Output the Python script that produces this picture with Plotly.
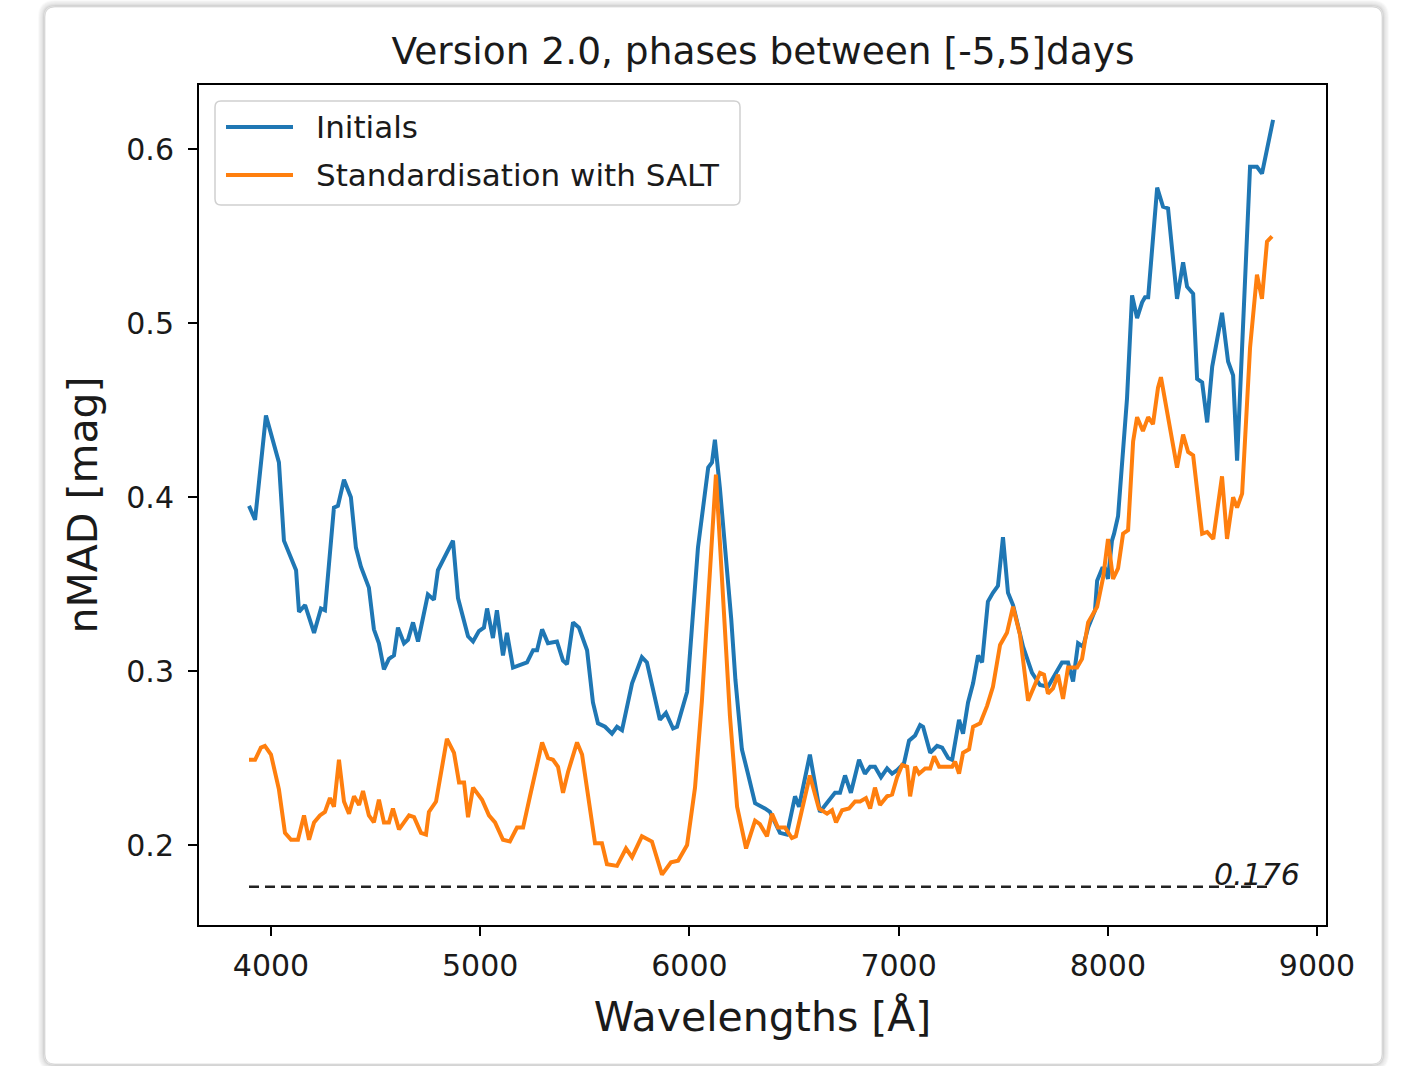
import plotly.graph_objects as go

# ---------------- data ----------------
wl_initials = [3895, 3924, 3976, 4038, 4062, 4120, 4134, 4163, 4206, 4239, 4258, 4301, 4320, 4349, 4382,
               4406, 4430, 4468, 4492, 4516, 4540, 4564, 4588, 4607, 4636, 4655, 4679, 4703, 4750, 4779,
               4798, 4870, 4894, 4942, 4966, 4994, 5018, 5033, 5061, 5080, 5109, 5128, 5157, 5224, 5253,
               5272, 5296, 5324, 5367, 5396, 5415, 5444, 5472, 5511, 5539, 5563, 5597, 5630, 5654, 5678,
               5726, 5773, 5797, 5859, 5888, 5922, 5941, 5965, 5989, 6041, 6090, 6108, 6122, 6146, 6200,
               6220, 6251, 6280, 6314, 6361, 6385, 6433, 6466, 6505, 6524, 6576, 6624, 6663, 6696, 6720,
               6744, 6772, 6811, 6839, 6864, 6887, 6916, 6945, 6969, 6993, 7026, 7050, 7079, 7103, 7117,
               7151, 7184, 7208, 7237, 7256, 7289, 7308, 7332, 7356, 7380, 7399, 7427, 7451, 7475, 7499,
               7523, 7547, 7595, 7638, 7676, 7714, 7738, 7781, 7810, 7834, 7858, 7882, 7906, 7939, 7949,
               7973, 7987, 8001, 8020, 8030, 8049, 8092, 8116, 8140, 8164, 8178, 8193, 8236, 8264, 8288,
               8331, 8360, 8379, 8408, 8427, 8451, 8475, 8499, 8546, 8575, 8599, 8618, 8680, 8713, 8737,
               8790]
nmad_initials = [0.395, 0.387, 0.447, 0.420, 0.375, 0.358, 0.334, 0.338, 0.322, 0.336, 0.335, 0.394, 0.395, 0.410, 0.400,
                 0.371, 0.360, 0.348, 0.324, 0.316, 0.301, 0.307, 0.309, 0.325, 0.316, 0.318, 0.328, 0.317, 0.344, 0.341,
                 0.358, 0.375, 0.342, 0.320, 0.317, 0.323, 0.325, 0.336, 0.319, 0.335, 0.309, 0.322, 0.302, 0.305, 0.312,
                 0.312, 0.324, 0.316, 0.317, 0.306, 0.304, 0.328, 0.325, 0.312, 0.282, 0.270, 0.268, 0.264, 0.268, 0.266,
                 0.293, 0.308, 0.305, 0.272, 0.276, 0.267, 0.268, 0.279, 0.288, 0.371, 0.417, 0.420, 0.433, 0.405, 0.330,
                 0.295, 0.255, 0.241, 0.224, 0.221, 0.219, 0.207, 0.206, 0.228, 0.222, 0.252, 0.219, 0.225, 0.230, 0.230,
                 0.240, 0.230, 0.249, 0.241, 0.245, 0.245, 0.239, 0.244, 0.241, 0.243, 0.247, 0.260, 0.263, 0.269, 0.268,
                 0.253, 0.257, 0.256, 0.250, 0.249, 0.272, 0.264, 0.282, 0.293, 0.309, 0.305, 0.340, 0.345, 0.349, 0.377,
                 0.345, 0.338, 0.314, 0.299, 0.292, 0.291, 0.296, 0.305, 0.305, 0.294, 0.316, 0.314, 0.325, 0.335, 0.352,
                 0.359, 0.359, 0.353, 0.375, 0.379, 0.389, 0.457, 0.516, 0.503, 0.512, 0.515, 0.515, 0.578, 0.567, 0.566,
                 0.514, 0.535, 0.521, 0.517, 0.468, 0.466, 0.443, 0.475, 0.506, 0.478, 0.470, 0.421, 0.590, 0.590, 0.586,
                 0.617]

wl_salt = [3895, 3924, 3952, 3971, 4000, 4038, 4067, 4096, 4129, 4158, 4182, 4206, 4234, 4258, 4282,
           4301, 4325, 4349, 4373, 4397, 4421, 4440, 4468, 4492, 4516, 4540, 4564, 4583, 4612, 4636,
           4660, 4684, 4717, 4741, 4755, 4789, 4841, 4875, 4899, 4923, 4942, 4966, 5009, 5042, 5071,
           5109, 5142, 5176, 5205, 5238, 5296, 5324, 5348, 5372, 5396, 5420, 5463, 5487, 5511, 5549,
           5582, 5606, 5654, 5697, 5726, 5773, 5821, 5869, 5912, 5946, 5989, 6027, 6060, 6127, 6194,
           6228, 6271, 6314, 6337, 6371, 6395, 6423, 6457, 6490, 6509, 6538, 6576, 6619, 6658, 6682,
           6701, 6730, 6763, 6792, 6816, 6844, 6864, 6887, 6911, 6945, 6969, 6993, 7017, 7041, 7055,
           7079, 7098, 7127, 7151, 7170, 7194, 7232, 7256, 7270, 7289, 7308, 7337, 7356, 7390, 7423,
           7451, 7485, 7518, 7547, 7580, 7619, 7652, 7676, 7695, 7714, 7738, 7762, 7786, 7810, 7853,
           7877, 7906, 7949, 7978, 8001, 8025, 8049, 8073, 8097, 8121, 8140, 8168, 8193, 8216, 8240,
           8254, 8331, 8360, 8384, 8408, 8451, 8475, 8504, 8546, 8570, 8599, 8618, 8642, 8680, 8713,
           8737, 8761, 8785]
nmad_salt = [0.249, 0.249, 0.256, 0.257, 0.252, 0.232, 0.207, 0.203, 0.203, 0.217, 0.203, 0.213, 0.217, 0.219, 0.227,
             0.222, 0.249, 0.225, 0.218, 0.228, 0.223, 0.231, 0.217, 0.213, 0.226, 0.213, 0.213, 0.221, 0.209, 0.213,
             0.217, 0.216, 0.207, 0.206, 0.219, 0.225, 0.261, 0.253, 0.236, 0.236, 0.216, 0.233, 0.226, 0.217, 0.213,
             0.203, 0.202, 0.210, 0.210, 0.228, 0.259, 0.250, 0.249, 0.245, 0.230, 0.242, 0.259, 0.252, 0.232, 0.201,
             0.201, 0.189, 0.188, 0.198, 0.193, 0.205, 0.202, 0.183, 0.190, 0.191, 0.200, 0.233, 0.283, 0.413, 0.274,
             0.222, 0.198, 0.214, 0.212, 0.205, 0.218, 0.210, 0.210, 0.204, 0.205, 0.221, 0.240, 0.221, 0.218, 0.220,
             0.213, 0.220, 0.221, 0.225, 0.225, 0.227, 0.221, 0.233, 0.223, 0.228, 0.229, 0.239, 0.246, 0.245, 0.228,
             0.245, 0.241, 0.244, 0.244, 0.251, 0.245, 0.245, 0.245, 0.248, 0.241, 0.253, 0.255, 0.268, 0.270, 0.280,
             0.291, 0.315, 0.322, 0.337, 0.321, 0.283, 0.293, 0.299, 0.298, 0.287, 0.290, 0.298, 0.284, 0.302, 0.302,
             0.307, 0.328, 0.337, 0.354, 0.376, 0.353, 0.359, 0.379, 0.381, 0.432, 0.446, 0.438, 0.446, 0.442, 0.463,
             0.469, 0.417, 0.436, 0.426, 0.424, 0.379, 0.380, 0.376, 0.412, 0.376, 0.400, 0.394, 0.402, 0.486, 0.528,
             0.514, 0.547, 0.550]

reference_level = 0.176
reference_label = "0.176"
reference_label_x = 8500

x_ticks = [4000, 5000, 6000, 7000, 8000, 9000]
y_ticks = [0.2, 0.3, 0.4, 0.5, 0.6]

series_names = ["Initials", "Standardisation with SALT"]
series_colors = ["#1f77b4", "#ff7f0e"]

# ---------------- layout geometry (pixels) ----------------
W, H = 1413, 1066
L, R, T, B = 199, 1326, 85, 925
PW, PH = R - L, B - T


def px(xp):
    return (xp - L) / PW


def py(yp):
    return (B - yp) / PH


def rounded_rect(x0, y0, x1, y1, r):
    # pixel coords -> paper path with rounded corners
    rx, ry = r / PW, r / PH
    X0, X1 = px(x0), px(x1)
    Y0, Y1 = py(y1), py(y0)  # bottom, top
    return (f"M{X0 + rx},{Y1} L{X1 - rx},{Y1} Q{X1},{Y1} {X1},{Y1 - ry} "
            f"L{X1},{Y0 + ry} Q{X1},{Y0} {X1 - rx},{Y0} L{X0 + rx},{Y0} "
            f"Q{X0},{Y0} {X0},{Y0 + ry} L{X0},{Y1 - ry} Q{X0},{Y1} {X0 + rx},{Y1} Z")


FONT = "DejaVu Sans"
TXT = "#1a1a1a"
LW = 4

fig = go.Figure()
fig.add_trace(go.Scatter(x=wl_initials, y=nmad_initials, mode="lines", name=series_names[0],
                         line=dict(color=series_colors[0], width=LW), showlegend=False))
fig.add_trace(go.Scatter(x=wl_salt, y=nmad_salt, mode="lines", name=series_names[1],
                         line=dict(color=series_colors[1], width=LW), showlegend=False))
fig.add_trace(go.Scatter(x=[wl_initials[0], wl_salt[-1]], y=[reference_level, reference_level],
                         mode="lines", line=dict(color="#222222", width=2.5, dash="10px,6px"),
                         showlegend=False, hoverinfo="skip"))

shapes = []
# card shadow + border
for i, a in [(6, 0.02), (5, 0.03), (4, 0.04), (3, 0.05), (2, 0.07), (1, 0.10)]:
    shapes.append(dict(type="path", xref="paper", yref="paper", layer="below",
                       path=rounded_rect(45 - i, 7 - i, 1382 + i, 1064 + i, 10 + i),
                       line=dict(color=f"rgba(0,0,0,{a})", width=2), fillcolor="rgba(0,0,0,0)"))
shapes.append(dict(type="path", xref="paper", yref="paper", layer="below",
                   path=rounded_rect(45, 7, 1382, 1064, 10),
                   line=dict(color="rgba(0,0,0,0.12)", width=1), fillcolor="white"))
# legend box
shapes.append(dict(type="path", xref="paper", yref="paper",
                   path=rounded_rect(215, 101, 740, 205, 6),
                   line=dict(color="#d0d0d0", width=1.5), fillcolor="rgba(255,255,255,0.85)"))
legend_rows = [127, 175]
annotations = []
for name, col, yrow in zip(series_names, series_colors, legend_rows):
    shapes.append(dict(type="line", xref="paper", yref="paper", x0=px(226), x1=px(293),
                       y0=py(yrow), y1=py(yrow), line=dict(color=col, width=LW)))
    annotations.append(dict(xref="paper", yref="paper", x=px(314), y=py(yrow), text=name,
                            showarrow=False, xanchor="left", yanchor="middle",
                            font=dict(family=FONT, size=31, color=TXT)))

annotations.append(dict(x=reference_label_x, y=reference_level, xref="x", yref="y",
                        text=f"<i>{reference_label}</i>", showarrow=False,
                        xanchor="left", yanchor="bottom", yshift=-7,
                        font=dict(family=FONT, size=30, color=TXT)))

fig.update_layout(
    width=W, height=H,
    margin=dict(l=L, r=W - R, t=T, b=H - B),
    paper_bgcolor="white", plot_bgcolor="white",
    font=dict(family=FONT, color=TXT),
    title=dict(text="Version 2.0, phases between [-5,5]days", x=px(763), xref="paper", xanchor="center",
               y=1 - 51 / H, yref="container", yanchor="middle",
               font=dict(family=FONT, size=37.5, color=TXT)),
    shapes=shapes, annotations=annotations,
    showlegend=False,
)
fig.update_xaxes(range=[3656, 9043], tickvals=x_ticks, ticktext=[str(v) for v in x_ticks],
                 showgrid=False, zeroline=False, showline=True, linecolor="black", linewidth=2,
                 mirror=True, ticks="outside", ticklen=9, tickwidth=2, tickcolor="black",
                 ticklabelstandoff=4,
                 tickfont=dict(family=FONT, size=30, color=TXT),
                 title=dict(text="Wavelengths [Å]", font=dict(family=FONT, size=41, color=TXT), standoff=20))
fig.update_yaxes(range=[0.154, 0.637], tickvals=y_ticks, ticktext=[f"{v:.1f}" for v in y_ticks],
                 showgrid=False, zeroline=False, showline=True, linecolor="black", linewidth=2,
                 mirror=True, ticks="outside", ticklen=9, tickwidth=2, tickcolor="black",
                 ticklabelstandoff=8,
                 tickfont=dict(family=FONT, size=30, color=TXT),
                 title=dict(text="nMAD [mag]", font=dict(family=FONT, size=41, color=TXT), standoff=16))

fig.write_html("out.html")
